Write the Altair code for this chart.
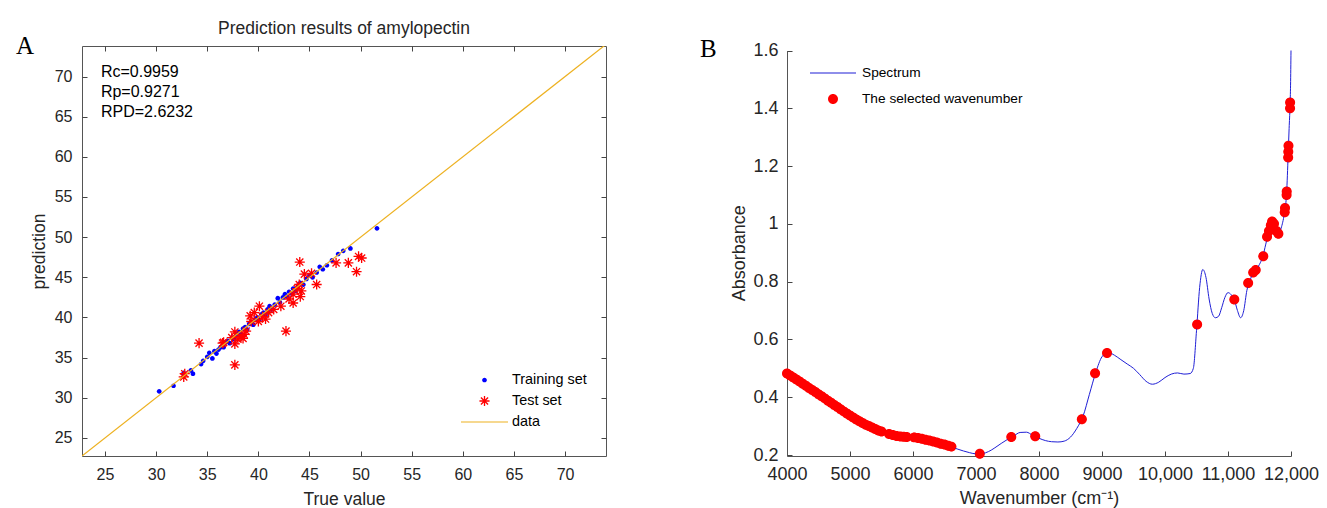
import altair as alt
import pandas as pd

FONT = "Liberation Sans"
SERIF = "Liberation Serif"


def dot_path(r):
    return f"M{r},0A{r},{r},0,1,1,{-r},0A{r},{r},0,1,1,{r},0Z"


def bar_path(t):
    return f"M-1,{-t}L1,{-t}L1,{t}L-1,{t}Z"


STAR = ("M-0.215,-0.028L0.215,-0.028L0.215,0.028L-0.215,0.028Z"
        "M-0.028,-0.215L0.028,-0.215L0.028,0.215L-0.028,0.215Z"
        "M0.1323,0.1718L-0.1718,-0.1323L-0.1323,-0.1718L0.1718,0.1323Z"
        "M0.1718,-0.1323L-0.1323,0.1718L-0.1718,0.1323L0.1323,-0.1718Z")

# ---------------- Panel A data ----------------
title_a = ["Prediction results of amylopectin"]
train_true = [30.3, 31.7, 32.7, 33.4, 33.6, 34.4, 34.6, 35.0, 35.2, 35.5, 35.7, 35.9, 36.1, 36.3, 36.6,
              36.8, 37.0, 37.2, 37.4, 37.6, 37.9, 38.1, 38.3, 38.5, 38.7, 38.9, 39.1, 39.3, 39.5, 39.7,
              39.9, 40.1, 40.3, 40.5, 40.7, 40.9, 41.1, 41.3, 41.6, 41.9, 42.1, 42.4, 42.6, 42.8, 43.0,
              43.2, 43.4, 43.6, 43.9, 44.1, 44.4, 44.7, 45.0, 45.3, 45.7, 46.0, 46.3, 46.7, 47.2, 47.8,
              48.3, 49.0, 51.6]
train_pred = [30.8, 31.5, 33.1, 33.4, 33.0, 34.2, 34.6, 35.1, 35.6, 34.9, 35.8, 35.5, 36.0, 36.3, 36.3,
              36.9, 37.1, 36.8, 37.5, 37.3, 37.9, 38.2, 37.9, 38.6, 38.8, 38.5, 39.2, 39.4, 39.1, 39.8,
              40.0, 39.7, 40.4, 40.6, 40.3, 41.0, 41.4, 41.0, 41.6, 42.4, 41.9, 42.5, 42.9, 42.6, 43.2,
              43.0, 43.6, 43.3, 44.0, 44.3, 44.1, 44.8, 45.2, 45.0, 45.6, 46.3, 46.0, 46.5, 47.1, 47.9,
              48.3, 48.6, 51.1]
test_true = [32.7, 32.8, 34.2, 36.5, 36.6, 37.4, 37.7, 37.7, 37.7, 38.0, 38.3, 38.5, 38.6, 38.8, 39.2,
             39.3, 39.6, 40.0, 40.1, 40.4, 40.7, 41.0, 41.5, 42.2, 42.7, 43.0, 43.4, 43.4, 43.8, 44.0,
             44.1, 44.05, 44.2, 44.5, 45.2, 45.7, 47.6, 48.8, 49.6, 49.8, 50.1]
test_pred = [32.6, 33.0, 36.8, 36.8, 36.9, 37.5, 38.2, 36.7, 34.1, 37.3, 37.6, 37.4, 37.9, 38.3, 40.2,
             39.5, 40.6, 39.5, 41.4, 40.1, 39.8, 40.6, 41.0, 41.4, 38.3, 42.3, 41.8, 42.9, 43.6, 44.1,
             42.6, 46.9, 43.3, 45.4, 45.5, 44.1, 46.8, 46.8, 45.7, 47.6, 47.4]
line_ends = [22.75, 74.0]
stats_labels = ["Rc=0.9959", "Rp=0.9271", "RPD=2.6232"]
stats_x = [24.6, 24.6, 24.6]
stats_y = [70.6, 68.1, 65.6]
ticks_a = [25, 30, 35, 40, 45, 50, 55, 60, 65, 70]
legend_a = ["Training set", "Test set", "data"]

# ---------------- Panel B data ----------------
spec_wn = [4000, 4100, 4200, 4300, 4400, 4500, 4600, 4700, 4800, 4900,
           5000, 5100, 5200, 5300, 5400, 5500, 5600, 5700, 5800, 5900,
           6000, 6100, 6200, 6300, 6400, 6500, 6600, 6700, 6800, 6900,
           7000, 7100, 7200, 7300, 7400, 7500, 7600, 7700, 7800, 7900,
           8000, 8100, 8200, 8300, 8400, 8500, 8600, 8700, 8800, 8900,
           9000, 9100, 9200, 9300, 9400, 9500, 9600, 9700, 9800, 9900,
           10000, 10100, 10200, 10300, 10400, 10450, 10500, 10550, 10600, 10650,
           10700, 10750, 10800, 10850, 10900, 10950, 11000, 11050, 11100, 11150,
           11200, 11250, 11300, 11350, 11400, 11450, 11500, 11550, 11600, 11650,
           11700, 11750, 11800, 11850, 11900, 11930, 11955, 11970, 11985, 11993,
           12000]
spec_ab = [0.482, 0.468, 0.454, 0.440, 0.425, 0.410, 0.396, 0.381, 0.366, 0.351,
           0.337, 0.323, 0.311, 0.300, 0.290, 0.281, 0.274, 0.268, 0.264, 0.262,
           0.261, 0.258, 0.253, 0.248, 0.242, 0.236, 0.229, 0.221, 0.214, 0.208,
           0.204, 0.205, 0.212, 0.225, 0.240, 0.254, 0.266, 0.278, 0.279, 0.268,
           0.258, 0.250, 0.246, 0.245, 0.248, 0.262, 0.292, 0.335, 0.410, 0.485,
           0.540, 0.555, 0.545, 0.530, 0.515, 0.500, 0.478, 0.455, 0.445, 0.452,
           0.468, 0.480, 0.484, 0.480, 0.482, 0.500, 0.630, 0.780, 0.842, 0.815,
           0.740, 0.690, 0.675, 0.680, 0.710, 0.745, 0.762, 0.755, 0.738, 0.700,
           0.675, 0.700, 0.770, 0.805, 0.830, 0.842, 0.860, 0.885, 0.930, 0.975,
           1.005, 0.985, 0.968, 0.990, 1.045, 1.105, 1.240, 1.330, 1.410, 1.480,
           1.600]
sel_wn = [4000, 4050, 4100, 4150, 4200, 4250, 4300, 4350, 4400, 4450,
          4500, 4550, 4600, 4650, 4700, 4750, 4800, 4850, 4900, 4950,
          5000, 5050, 5100, 5150, 5200, 5250, 5300, 5350, 5400, 5450,
          5500, 5620, 5680, 5740, 5800, 5850, 5900, 6020, 6080, 6140,
          6200, 6260, 6320, 6380, 6440, 6500, 6560, 6610, 7060, 7560,
          7940, 8680, 8890, 9080, 10510, 11100, 11320, 11400, 11440, 11560,
          11620, 11650, 11680, 11700, 11730, 11770, 11800, 11900, 11905, 11930,
          11932, 11955, 11957, 11960, 11985, 11986]
sel_ab = [0.482, 0.475, 0.468, 0.461, 0.454, 0.447, 0.440, 0.432, 0.425, 0.418,
          0.410, 0.403, 0.396, 0.388, 0.381, 0.373, 0.366, 0.358, 0.351, 0.344,
          0.337, 0.330, 0.323, 0.317, 0.311, 0.305, 0.300, 0.295, 0.290, 0.285,
          0.281, 0.273, 0.269, 0.266, 0.264, 0.263, 0.262, 0.261, 0.259, 0.256,
          0.253, 0.250, 0.247, 0.243, 0.239, 0.236, 0.232, 0.229, 0.204, 0.262,
          0.265, 0.324, 0.483, 0.553, 0.652, 0.738, 0.795, 0.832, 0.840, 0.888,
          0.955, 0.975, 0.995, 1.008, 1.000, 0.975, 0.966, 1.040, 1.055, 1.100,
          1.112, 1.230, 1.250, 1.270, 1.400, 1.420]
ticks_bx = [4000, 5000, 6000, 7000, 8000, 9000, 10000, 11000, 12000]
ticks_by = [0.2, 0.4, 0.6, 0.8, 1.0, 1.2, 1.4, 1.6]
legend_b = ["Spectrum", "The selected wavenumber"]

# ---------------- Panel A ----------------
a_train = pd.DataFrame({"true": train_true, "pred": train_pred, "sA": legend_a[0]})
a_test = pd.DataFrame({"true": test_true, "pred": test_pred, "sA": legend_a[1]})
a_line = pd.DataFrame({"true": line_ends, "pred": line_ends, "sA": legend_a[2]})
a_stats = pd.DataFrame({"true": stats_x, "pred": stats_y, "label": stats_labels})

xsA = alt.Scale(domain=[22.75, 74.0], nice=False, zero=False)
ysA = alt.Scale(domain=[22.75, 73.8], nice=False, zero=False)

lab = dict(labelFont=FONT, labelFontSize=16, labelColor="#262626", labelFlush=False, labelOverlap=False,
           titleFont=FONT, titleFontSize=17.5, titleColor="#262626", titleFontWeight="normal")
tick_only = dict(offset=-5, tickSize=5, labels=False, domain=False, grid=False,
                 tickColor="#444", tickWidth=1)

SYM_A = 2209  # 47 px symbol box
legendA = alt.Legend(
    title=None, orient="none", legendX=379, legendY=326, symbolSize=SYM_A, clipHeight=16,
    labelOffset=4, labelFontSize=14.4, labelFont=FONT, labelColor="#000", labelLimit=400,
    rowPadding=5, padding=0, symbolStrokeWidth=0)
colorA = alt.Color("sA:N", scale=alt.Scale(domain=legend_a, range=["#0000ff", "#ff0000", "#edb120"]),
                   legend=legendA)
shapeA = alt.Shape("sA:N", scale=alt.Scale(domain=legend_a,
                                           range=[dot_path(0.1), STAR, bar_path(0.022)]),
                   legend=legendA)

trainA = alt.Chart(a_train).mark_point(filled=True, size=SYM_A, opacity=1, strokeWidth=0).encode(
    x=alt.X("true:Q", scale=xsA, axis=alt.Axis(orient="bottom", values=ticks_a, offset=-5, tickSize=5,
                                               domain=False, grid=False, tickColor="#444", labelPadding=10,
                                               title="True value", titlePadding=8, **lab)),
    y=alt.Y("pred:Q", scale=ysA, axis=alt.Axis(orient="left", values=ticks_a, offset=-5, tickSize=5,
                                               domain=False, grid=False, tickColor="#444", labelPadding=10,
                                               title="prediction", titlePadding=6, **lab)),
    color=colorA, shape=shapeA)
testA = alt.Chart(a_test).mark_point(filled=True, size=SYM_A, opacity=1, strokeWidth=0).encode(
    x=alt.X("true:Q", scale=xsA, axis=None),
    y=alt.Y("pred:Q", scale=ysA, axis=None),
    color=colorA, shape=shapeA)
statsA = alt.Chart(a_stats).mark_text(align="left", baseline="middle", font=FONT, fontSize=16,
                                      color="#000").encode(
    x=alt.X("true:Q", scale=xsA, axis=None),
    y=alt.Y("pred:Q", scale=ysA, axis=None),
    text="label:N")
titleA = alt.Chart(pd.DataFrame({"label": title_a})).mark_text(
    align="center", baseline="middle", font=FONT, fontSize=17.5, color="#262626").encode(
    x=alt.value(262), y=alt.value(-17), text="label:N")
panelA = alt.Chart(pd.DataFrame({"label": ["A"]})).mark_text(
    align="left", baseline="middle", font=SERIF, fontSize=25, color="#000").encode(
    x=alt.value(-66), y=alt.value(0), text="label:N")
lineA = alt.Chart(a_line).mark_line(strokeWidth=1.2, clip=True).encode(
    x=alt.X("true:Q", scale=xsA, axis=alt.Axis(orient="top", values=ticks_a, title=None, **tick_only)),
    y=alt.Y("pred:Q", scale=ysA, axis=alt.Axis(orient="right", values=ticks_a, title=None, **tick_only)),
    color=colorA)

chartA = alt.layer(trainA, testA, statsA, titleA, panelA, lineA).resolve_axis(
    x="independent", y="independent").properties(
    width=524, height=410, view=alt.ViewBackground(stroke="#555", strokeWidth=1))

# ---------------- Panel B ----------------
b_spec = pd.DataFrame({"wn": spec_wn, "ab": spec_ab, "sB": legend_b[0]})
b_sel = pd.DataFrame({"wn": sel_wn, "ab": sel_ab, "sB": legend_b[1]})

xsB = alt.Scale(domain=[4000, 12000], nice=False, zero=False)
ysB = alt.Scale(domain=[0.2, 1.6], nice=False, zero=False, range=[409, 4.5])

SYM_B = 2116  # 46 px symbol box
legendB = alt.Legend(
    title=None, orient="none", legendX=23, legendY=19, symbolSize=SYM_B, clipHeight=16,
    labelOffset=6, labelFontSize=13.7, labelFont=FONT, labelColor="#000", labelLimit=400,
    rowPadding=10, padding=0, symbolStrokeWidth=0)
colorB = alt.Color("sB:N", scale=alt.Scale(domain=legend_b, range=["#1f1fd6", "#ff0000"]), legend=legendB)
shapeB = alt.Shape("sB:N", scale=alt.Scale(domain=legend_b, range=[bar_path(0.022), dot_path(0.217)]),
                   legend=legendB)

x_lab_expr = "datum.value >= 10000 ? format(datum.value, ',') : format(datum.value, 'd')"
labB = dict(labelFont=FONT, labelFontSize=18, labelColor="#262626", labelFlush=False, labelOverlap=False,
            titleFont=FONT, titleFontSize=18, titleColor="#262626", titleFontWeight="normal")

selB_leg = alt.Chart(b_sel).mark_point(filled=True, size=SYM_B, opacity=1, strokeWidth=0).encode(
    x=alt.X("wn:Q", scale=xsB, axis=alt.Axis(orient="bottom", values=ticks_bx, title=None, **tick_only)),
    y=alt.Y("ab:Q", scale=ysB, axis=alt.Axis(orient="left", values=ticks_by, title=None, **tick_only)),
    color=colorB, shape=shapeB)
specB = alt.Chart(b_spec).mark_line(strokeWidth=1, interpolate="monotone").encode(
    x=alt.X("wn:Q", scale=xsB, axis=alt.Axis(orient="bottom", values=ticks_bx, tickSize=0, domain=True,
                                             domainColor="#555", grid=False, labelPadding=9,
                                             labelExpr=x_lab_expr, title="Wavenumber (cm⁻¹)",
                                             titlePadding=6, **labB)),
    y=alt.Y("ab:Q", scale=ysB, axis=alt.Axis(orient="left", values=ticks_by, tickSize=0, domain=True,
                                            domainColor="#555", grid=False, labelPadding=9, format="~g",
                                            title="Absorbance", titlePadding=4, **labB)),
    color=colorB)
selB_top = alt.Chart(b_sel).mark_circle(size=82, opacity=1, color="#ff0000").encode(
    x=alt.X("wn:Q", scale=xsB, axis=None),
    y=alt.Y("ab:Q", scale=ysB, axis=None))
panelB = alt.Chart(pd.DataFrame({"label": ["B"]})).mark_text(
    align="left", baseline="middle", font=SERIF, fontSize=25, color="#000").encode(
    x=alt.value(-87), y=alt.value(3), text="label:N")

chartB = alt.layer(selB_leg, specB, selB_top, panelB).resolve_axis(
    x="independent", y="independent").properties(
    width=504, height=410, view=alt.ViewBackground(strokeWidth=0))

chart = alt.hconcat(chartA, chartB, spacing=181, bounds="flush").resolve_scale(
    color="independent", shape="independent").properties(
    padding={"left": 7, "top": 11, "right": 0, "bottom": 0},
    background="white")

chart.save("out.html", embed_options={"renderer": "svg", "actions": False})
